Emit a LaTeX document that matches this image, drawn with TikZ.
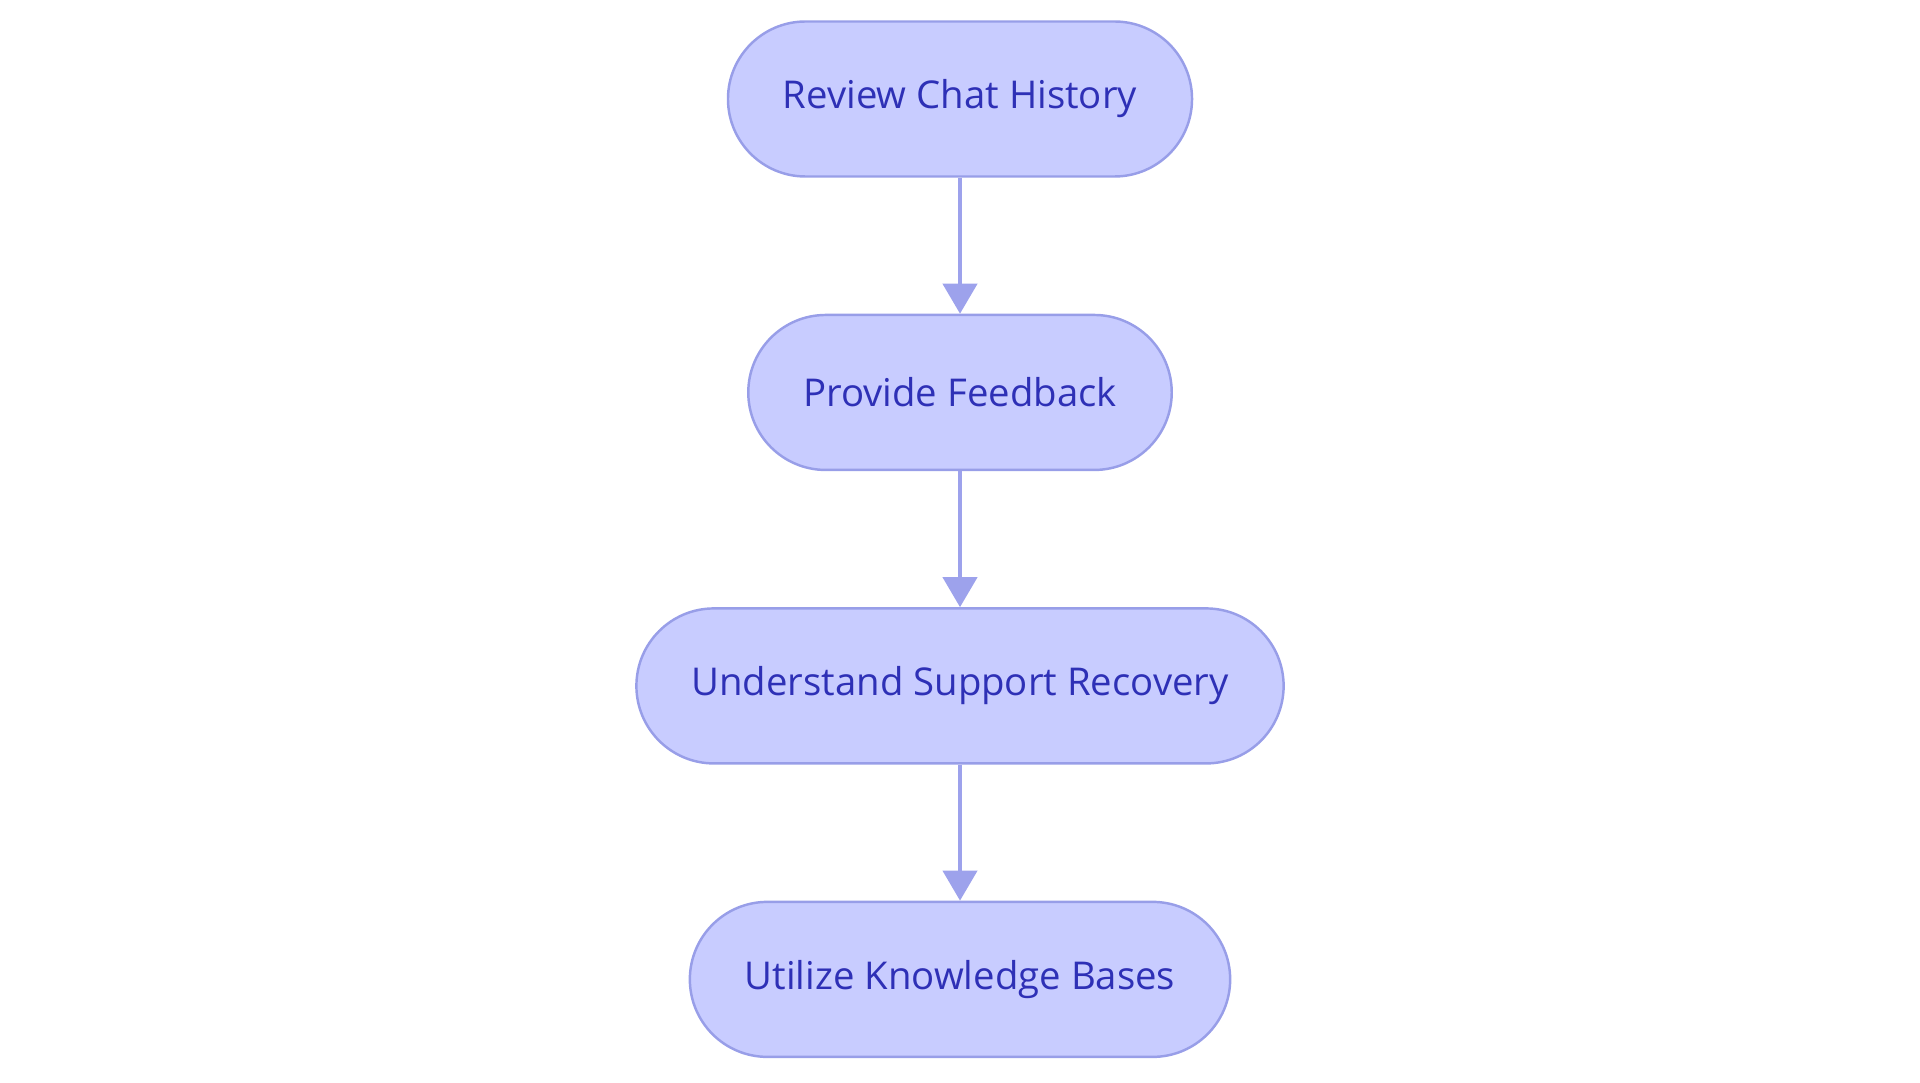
\documentclass[tikz,border=0pt]{standalone}
\usepackage{xcolor}
\usepackage{tikz}
\usepackage{fontspec}
\setmainfont{Open Sans}
\usetikzlibrary{positioning}
\usetikzlibrary{arrows.meta,arrows}
\definecolor{stepfill}{RGB}{200,204,255}
\definecolor{stepline}{RGB}{152,158,232}
\definecolor{steptext}{RGB}{46,48,182}
\definecolor{steparrow}{RGB}{157,162,236}

\tikzset{
    stepbox/.style = {draw = stepline, fill = stepfill, line width = 0.7pt,
        rectangle, rounded corners = 0.775cm, minimum height = 1.55cm,
        inner xsep = 0.55cm, text = steptext, font = \fontsize{10.9}{13}\selectfont},
    flow/.style = {draw = steparrow, line width = 1.2pt,
        -{Triangle[width = 0.34cm, length = 0.3cm]}},
}

\begin{document}
\begin{tikzpicture}[node distance = 1.36cm]
\useasboundingbox (0,0) rectangle (19.2,-10.83);
\node[stepbox] (review) at (9.6,-0.99) {Review Chat History};
\node[stepbox, below = of review] (feedback) {Provide Feedback};
\node[stepbox, below = of feedback] (recovery) {Understand Support Recovery};
\node[stepbox, below = of recovery] (knowledge) {Utilize Knowledge Bases};

\draw[flow] (review) -- (feedback);
\draw[flow] (feedback) -- (recovery);
\draw[flow] (recovery) -- (knowledge);
\end{tikzpicture}
\end{document}
